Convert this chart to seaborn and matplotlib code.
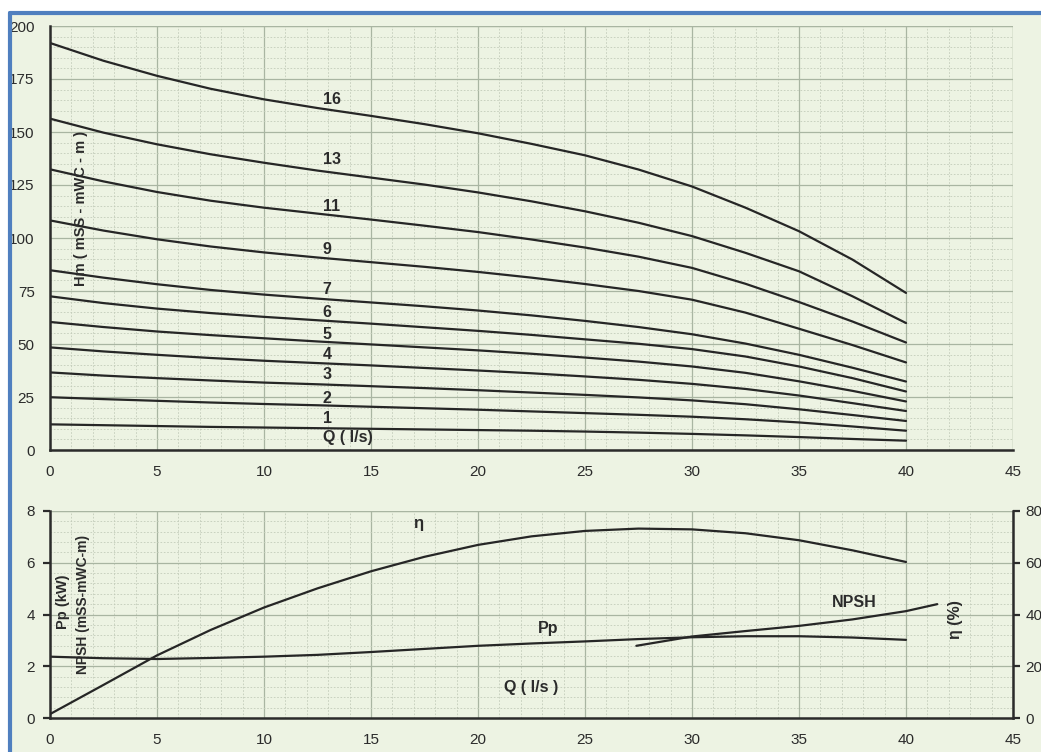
import numpy as np
import pandas as pd
import seaborn as sns
import matplotlib
matplotlib.use("Agg")
import matplotlib.pyplot as plt
from matplotlib.ticker import MultipleLocator
from matplotlib.patches import Rectangle
from matplotlib.lines import Line2D

# ---------------- data ----------------
q = [0, 2.5, 5, 7.5, 10, 12.5, 15, 17.5, 20, 22.5, 25, 27.5, 30, 32.5, 35, 37.5, 40]
stages = ["16", "13", "11", "9", "7", "6", "5", "4", "3", "2", "1"]
head_16 = [192, 183.6, 176.5, 170.4, 165.4, 161.3, 157.6, 153.7, 149.4, 144.4, 139,
           132.3, 124.3, 114.3, 103.2, 89.8, 74.1]
head_13 = [156.3, 149.7, 144.2, 139.5, 135.5, 131.8, 128.5, 125.2, 121.5, 117.3, 112.6,
           107.2, 100.9, 93, 84.3, 72.5, 59.9]
head_11 = [132.4, 126.7, 121.7, 117.6, 114.3, 111.5, 108.7, 105.8, 102.8, 99.3, 95.5,
           91.2, 85.9, 78.4, 69.8, 60.6, 50.7]
head_9 = [108.3, 103.5, 99.4, 96, 93.2, 90.8, 88.6, 86.4, 84, 81.3, 78.3,
          75, 70.9, 64.8, 57.2, 49.5, 41.3]
head_7 = [84.8, 81.3, 78.2, 75.5, 73.3, 71.4, 69.6, 67.8, 65.8, 63.5, 60.9,
          58, 54.6, 50.2, 44.9, 38.8, 32.3]
head_6 = [72.5, 69.3, 66.7, 64.6, 62.8, 61.2, 59.6, 57.9, 56.2, 54.3, 52.2,
          50.1, 47.6, 44.1, 39.4, 33.9, 27.6]
head_5 = [60.4, 58, 55.9, 54.2, 52.7, 51.2, 49.8, 48.4, 47, 45.4, 43.6,
          41.7, 39.4, 36.4, 32.4, 27.9, 22.9]
head_4 = [48.4, 46.5, 44.9, 43.4, 42.1, 41, 39.9, 38.7, 37.5, 36.2, 34.7,
          33.1, 31.2, 28.8, 25.7, 22.1, 18.4]
head_3 = [36.6, 35.1, 33.9, 32.8, 31.8, 31, 30.1, 29.2, 28.2, 27.1, 26,
          24.8, 23.4, 21.6, 19.2, 16.5, 13.7]
head_2 = [24.9, 24, 23.2, 22.4, 21.7, 21.1, 20.4, 19.7, 19, 18.2, 17.4,
          16.6, 15.7, 14.5, 13, 11.1, 9.1]
head_1 = [12.1, 11.7, 11.3, 10.9, 10.6, 10.3, 10, 9.7, 9.4, 9.1, 8.7,
          8.2, 7.6, 6.9, 6.1, 5.2, 4.4]
heads = [head_16, head_13, head_11, head_9, head_7, head_6, head_5,
         head_4, head_3, head_2, head_1]
label_y = [165.5, 137, 115, 94.6, 75.7, 64.8, 54.4, 44.9, 35.5, 24.1, 14.7]

q_eta = [0, 2.5, 5, 7.5, 10, 12.5, 15, 17.5, 20, 22.5, 25, 27.5, 30, 32.5, 35, 37.5, 40]
eta = [1.5, 12.8, 24.2, 34.0, 42.7, 50.1, 56.7, 62.3, 66.9, 70.2, 72.3, 73.2, 72.9,
       71.4, 68.7, 64.8, 60.3]
q_pp = [0, 2.5, 5, 7.5, 10, 12.5, 15, 17.5, 20, 22.5, 25, 27.5, 30, 32.5, 35, 37.5, 40]
pp = [2.37, 2.31, 2.28, 2.32, 2.37, 2.44, 2.55, 2.67, 2.79, 2.88, 2.96, 3.05, 3.12,
      3.16, 3.16, 3.11, 3.02]
q_npsh = [27.4, 30, 32.5, 35, 37.5, 40, 41.46]
npsh = [2.79, 3.15, 3.36, 3.56, 3.81, 4.13, 4.40]

# ---------------- style ----------------
BG = "#edf3e3"
MAJ = "#a9b5a2"
MIN = "#c3ccba"
INK = "#2b2b2b"
LINE = "#262626"
LW = 1.6
FONT = ["Liberation Sans Narrow", "Liberation Sans", "DejaVu Sans"]

sns.set_theme(style="white")
plt.rcParams["font.family"] = FONT
plt.rcParams["axes.facecolor"] = BG
plt.rcParams["lines.solid_joinstyle"] = "round"

fig = plt.figure(figsize=(10.41, 7.52), dpi=100, facecolor="white")
fig.patches.append(Rectangle((10 / 1041, 0), 1, 1 - 13 / 752, transform=fig.transFigure,
                             facecolor=BG, edgecolor="none", zorder=-10))
fig.add_artist(Line2D([10 / 1041, 1], [1 - 13 / 752] * 2, transform=fig.transFigure,
                      color="#4f7fbf", lw=3))
fig.add_artist(Line2D([10 / 1041] * 2, [0, 1 - 13 / 752], transform=fig.transFigure,
                      color="#4f7fbf", lw=3))

left = 50 / 1041
width = (1013 - 50) / 1041
ax1 = fig.add_axes([left, 1 - 450 / 752, width, (450 - 26) / 752])
ax2 = fig.add_axes([left, 1 - 718 / 752, width, (718 - 511) / 752])


def style_axes(ax, xmin_step, ymaj, ymin):
    ax.set_facecolor(BG)
    ax.set_xlim(0, 45)
    ax.xaxis.set_major_locator(MultipleLocator(5))
    ax.xaxis.set_minor_locator(MultipleLocator(xmin_step))
    ax.yaxis.set_major_locator(MultipleLocator(ymaj))
    ax.yaxis.set_minor_locator(MultipleLocator(ymin))
    ax.grid(which="major", color=MAJ, lw=0.9, zorder=0)
    ax.grid(which="minor", color=MIN, lw=0.6, ls=(0, (2, 2)), zorder=0)
    ax.set_axisbelow(True)
    for s in ["top", "right"]:
        ax.spines[s].set_visible(False)
    for s in ["left", "bottom"]:
        ax.spines[s].set_color(INK)
        ax.spines[s].set_linewidth(1.8)
        ax.spines[s].set_zorder(5)
    ax.tick_params(which="major", direction="out", length=5, width=1.6, color=INK,
                   labelsize=11, labelcolor=INK, pad=6)
    ax.tick_params(which="minor", length=0)
    ax.set_xlabel("")
    ax.set_ylabel("")


# ---------------- top panel ----------------
for name, h in zip(stages, heads):
    sns.lineplot(x=q, y=h, ax=ax1, color=LINE, lw=LW, zorder=3)
ax1.set_ylim(0, 200)
style_axes(ax1, 1, 25, 5)
ax1.axvline(45, color=MAJ, lw=0.9, zorder=0)
ax1.axhline(200, color=MAJ, lw=0.9, zorder=0)

for name, yv in zip(stages, label_y):
    ax1.text(12.75, yv, name, fontsize=11.5, fontweight="bold", color=INK,
             ha="left", va="center", zorder=4)
ax1.text(12.75, 5.7, "Q ( l/s)", fontsize=11.5, fontweight="bold", color=INK,
         ha="left", va="center", zorder=4)
ax1.text(1.45, 114, "Hm ( mSS - mWC - m )", rotation=90, fontsize=10.5, fontweight="bold",
         color=INK, ha="center", va="center", zorder=4)

# ---------------- bottom panel ----------------
sns.lineplot(x=q_pp, y=pp, ax=ax2, color=LINE, lw=LW, zorder=3)
sns.lineplot(x=q_npsh, y=npsh, ax=ax2, color=LINE, lw=LW, zorder=3)
ax2.set_ylim(0, 8)
style_axes(ax2, 1, 2, 0.4)
ax2.axvline(45, color=MAJ, lw=0.9, zorder=0)
ax2.axhline(8, color=MAJ, lw=0.9, zorder=0)

ax3 = ax2.twinx()
sns.lineplot(x=q_eta, y=eta, ax=ax3, color=LINE, lw=LW, zorder=3)
ax3.set_ylim(0, 80)
ax3.set_xlim(0, 45)
ax3.yaxis.set_major_locator(MultipleLocator(20))
ax3.grid(False)
for s in ["top", "left", "bottom"]:
    ax3.spines[s].set_visible(False)
ax3.spines["right"].set_color(INK)
ax3.spines["right"].set_linewidth(1.8)
ax3.tick_params(which="major", direction="out", length=5, width=1.6, color=INK,
                labelsize=11, labelcolor=INK, pad=4)
ax3.set_ylabel("")

ax2.text(17.2, 7.5, "η", fontsize=12, fontweight="bold", color=INK, ha="center", va="center")
ax2.text(23.3, 3.45, "Pp", fontsize=11.5, fontweight="bold", color=INK, ha="center", va="center")
ax2.text(37.6, 4.48, "NPSH", fontsize=11.5, fontweight="bold", color=INK, ha="center", va="center")
ax2.text(22.5, 1.16, "Q ( l/s )", fontsize=11.5, fontweight="bold", color=INK, ha="center", va="center")
ax2.text(42.3, 3.8, "η (%)", rotation=90, fontsize=11.5, fontweight="bold", color=INK,
         ha="center", va="center")
ax2.text(0.6, 4.5, "Pp (kW)", rotation=90, fontsize=10.5, fontweight="bold", color=INK,
         ha="center", va="center")
ax2.text(1.55, 4.4, "NPSH (mSS-mWC-m)", rotation=90, fontsize=10, fontweight="bold",
         color=INK, ha="center", va="center")

fig.savefig("out.png", dpi=100, facecolor=fig.get_facecolor())
